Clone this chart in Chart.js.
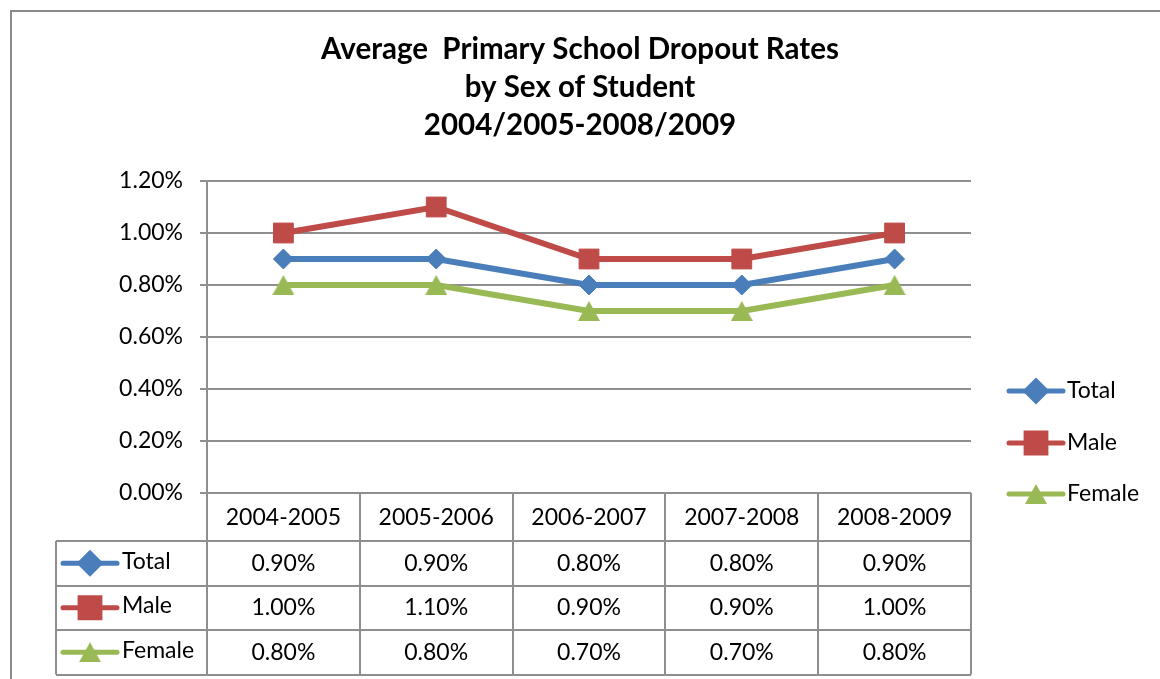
<!DOCTYPE html>
<html>
<head>
<meta charset="utf-8">
<script src="https://cdn.jsdelivr.net/npm/chart.js@4.4.0/dist/chart.umd.min.js"></script>
<style>
  html, body { margin: 0; padding: 0; background: #fff; }
</style>
</head>
<body>
<canvas id="dropoutChart" width="1160" height="679"></canvas>
<script>
const years = ["2004-2005", "2005-2006", "2006-2007", "2007-2008", "2008-2009"];
const totalRates = [0.9, 0.9, 0.8, 0.8, 0.9];
const maleRates = [1.0, 1.1, 0.9, 0.9, 1.0];
const femaleRates = [0.8, 0.8, 0.7, 0.7, 0.8];
const seriesNames = ["Total", "Male", "Female"];
const titleLines = ["Average  Primary School Dropout Rates", "by Sex of Student", "2004/2005-2008/2009"];

const FONT = "Lato";
const GRID = "#8e8e8e";
const GREEN = "#98b954";

function pct(v) {
  return v.toFixed(2) + "%";
}

// Excel style triangle, centred on its box (built-in one sits too high)
function makeTriangle(color) {
  const cv = document.createElement("canvas");
  cv.width = 22;
  cv.height = 20;
  const t = cv.getContext("2d");
  t.fillStyle = color;
  t.beginPath();
  t.moveTo(11, 0);
  t.lineTo(22, 20);
  t.lineTo(0, 20);
  t.closePath();
  t.fill();
  return cv;
}
const triangleMark = makeTriangle(GREEN);

// outer frame of the chart
const framePlugin = {
  id: "frame",
  beforeDraw(chart) {
    const c = chart.ctx;
    c.save();
    c.fillStyle = "#fff";
    c.fillRect(0, 0, chart.width, chart.height);
    c.strokeStyle = "#8a8a8a";
    c.lineWidth = 2;
    c.strokeRect(11, 11, chart.width + 20, chart.height + 20);
    c.restore();
  },
};

function drawKey(c, ds, x1, x2, y) {
  c.save();
  c.strokeStyle = ds.borderColor;
  c.lineWidth = 5;
  c.lineCap = "round";
  c.beginPath();
  c.moveTo(x1, y);
  c.lineTo(x2, y);
  c.stroke();
  c.fillStyle = ds.backgroundColor;
  c.strokeStyle = ds.backgroundColor;
  Chart.helpers.drawPoint(c, { pointStyle: ds.pointStyle, radius: ds.pointRadius, rotation: 0, borderWidth: 1 }, (x1 + x2) / 2, y);
  c.restore();
}

// data table under the plot + legend on the right
const tablePlugin = {
  id: "dataTable",
  afterDraw(chart) {
    const c = chart.ctx;
    const area = chart.chartArea;
    const xs = chart.scales.x;
    const colW = (area.right - area.left) / years.length;
    const headBottom = area.bottom + 48;
    const rowH = 44.5;
    const tableBottom = headBottom + rowH * 3;
    const keyLeft = 56;

    c.save();
    c.strokeStyle = GRID;
    c.lineWidth = 2;
    c.beginPath();
    for (let i = 0; i <= years.length; i++) {
      const x = Math.round(area.left + i * colW);
      c.moveTo(x, area.bottom);
      c.lineTo(x, tableBottom);
    }
    c.moveTo(keyLeft, headBottom);
    c.lineTo(keyLeft, tableBottom);
    for (let r = 0; r <= 3; r++) {
      const y = Math.round(headBottom + r * rowH);
      c.moveTo(keyLeft, y);
      c.lineTo(area.right, y);
    }
    c.stroke();

    c.fillStyle = "#000";
    c.font = "23px " + FONT;
    c.textAlign = "center";
    c.textBaseline = "middle";
    years.forEach((y, i) => {
      c.fillText(y, xs.getPixelForValue(i), (area.bottom + headBottom) / 2 + 1);
    });

    chart.data.datasets.forEach((ds, r) => {
      const cy = headBottom + rowH * r + rowH / 2;
      ds.data.forEach((v, i) => {
        c.fillStyle = "#000";
        c.textAlign = "center";
        c.fillText(pct(v), xs.getPixelForValue(i), cy);
      });
      drawKey(c, ds, 63, 117, cy);
      c.fillStyle = "#000";
      c.textAlign = "left";
      c.fillText(ds.label, 122, cy - 2);
    });

    // right legend
    const legendY = [391, 443, 494];
    chart.data.datasets.forEach((ds, r) => {
      drawKey(c, ds, 1009, 1063, legendY[r]);
      c.fillStyle = "#000";
      c.textAlign = "left";
      c.fillText(ds.label, 1067, legendY[r]);
    });
    c.restore();
  },
};

new Chart(document.getElementById("dropoutChart"), {
  type: "line",
  data: {
    labels: years,
    datasets: [
      {
        label: seriesNames[0],
        data: totalRates,
        borderColor: "#4a7ebb",
        backgroundColor: "#4a7ebb",
        pointStyle: "rectRot",
        pointRadius: 10,
      },
      {
        label: seriesNames[1],
        data: maleRates,
        borderColor: "#be4b48",
        backgroundColor: "#be4b48",
        pointStyle: "rect",
        pointRadius: 14,
      },
      {
        label: seriesNames[2],
        data: femaleRates,
        borderColor: GREEN,
        backgroundColor: GREEN,
        pointStyle: triangleMark,
        pointRadius: 11,
      },
    ],
  },
  options: {
    responsive: false,
    animation: false,
    devicePixelRatio: 1,
    datasets: {
      line: {
        borderWidth: 6,
        tension: 0,
        pointBorderWidth: 1,
        clip: false,
      },
    },
    elements: {
      point: { borderColor: (ctx) => ctx.dataset.backgroundColor },
    },
    layout: {
      padding: { left: 0, right: 0, top: 0, bottom: 186 },
    },
    plugins: {
      legend: { display: false },
      tooltip: { enabled: false },
      title: {
        display: true,
        text: titleLines,
        color: "#000",
        font: { family: FONT, size: 29.5, weight: "bold", lineHeight: 38 / 29.5 },
        padding: { top: 30, bottom: 37 },
      },
    },
    scales: {
      x: {
        type: "category",
        offset: true,
        display: false,
      },
      y: {
        min: 0,
        max: 1.2,
        ticks: {
          stepSize: 0.2,
          color: "#000",
          font: { family: FONT, size: 23 },
          padding: 17,
          callback: (v) => pct(v),
        },
        grid: {
          color: GRID,
          lineWidth: 2,
          tickLength: 7,
        },
        border: { color: GRID, width: 2 },
        afterFit: (s) => {
          s.width = 207;
        },
      },
      // empty axis that keeps room for the legend on the right
      legendSpace: {
        type: "linear",
        position: "right",
        grid: { display: false },
        border: { display: false },
        ticks: { display: false },
        afterFit: (s) => {
          s.width = 189;
        },
      },
    },
  },
  plugins: [framePlugin, tablePlugin],
});
</script>
</body>
</html>
